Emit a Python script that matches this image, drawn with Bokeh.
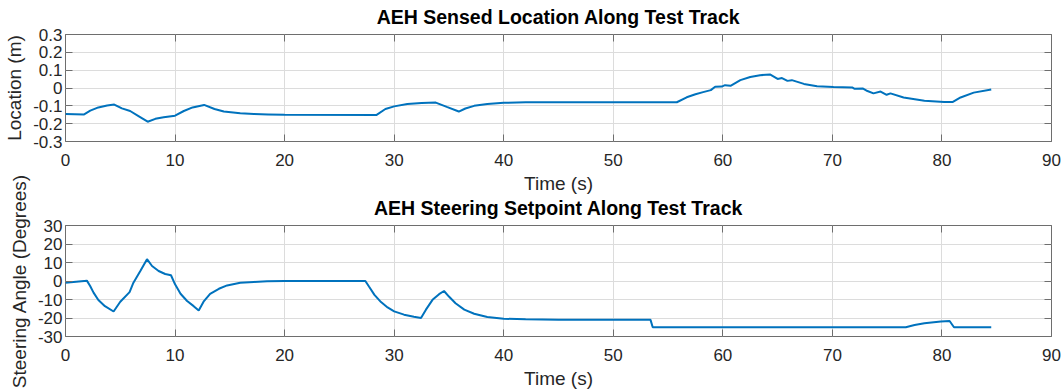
from bokeh.plotting import figure
from bokeh.layouts import column
from bokeh.models import LinearAxis, FixedTicker, Range1d, CustomLabelingPolicy
from bokeh.embed import file_html
from bokeh.resources import INLINE

# Sensed lateral location of the AEH along the track (time in s, location in m)
loc_time = [0, 1.7, 2.26, 3.0, 3.8, 4.45, 5.15, 5.9, 6.7, 7.5, 8.2, 8.96, 10.0,
            10.8, 11.6, 12.65, 13.6, 14.45, 15.95, 17.2, 18.5, 20.0, 28.4, 29.2,
            30.0, 31.2, 32.5, 33.8, 34.8, 35.9, 36.5, 37.3, 38.5, 40.0, 42.0, 55.8,
            56.7, 57.5, 58.2, 58.9, 59.3, 59.9, 60.2, 60.7, 61.6, 62.5, 63.4, 64.3,
            65.0, 65.4, 65.9, 66.3, 67.4, 68.6, 70.1, 71.8, 72.0, 72.8, 73.2, 73.75,
            74.4, 74.95, 75.3, 76.5, 78.4, 80.2, 81.0, 81.7, 82.9, 84.5]
loc_m = [-0.146, -0.148, -0.127, -0.109, -0.098, -0.093, -0.114, -0.129, -0.159,
         -0.189, -0.173, -0.164, -0.155, -0.129, -0.109, -0.095, -0.118, -0.132,
         -0.141, -0.146, -0.148, -0.150, -0.151, -0.118, -0.103, -0.090, -0.084,
         -0.082, -0.106, -0.132, -0.115, -0.100, -0.090, -0.083, -0.080, -0.080,
         -0.052, -0.035, -0.023, -0.012, 0.007, 0.008, 0.016, 0.012, 0.044, 0.062,
         0.072, 0.076, 0.051, 0.056, 0.040, 0.044, 0.023, 0.010, 0.006, 0.003,
         -0.004, -0.003, -0.017, -0.030, -0.020, -0.038, -0.030, -0.053, -0.071,
         -0.078, -0.078, -0.053, -0.026, -0.008]

# Steering setpoint along the track (time in s, angle in degrees)
steer_time = [0, 1.95, 2.25, 2.56, 3.0, 3.6, 4.39, 5.0, 5.85, 6.2, 6.83, 7.44, 7.9,
              8.5, 9.1, 9.63, 10.0, 10.5, 11.1, 11.7, 12.16, 12.6, 13.2, 14.0, 14.75,
              15.95, 17.2, 18.4, 20.0, 27.37, 27.7, 28.2, 28.8, 29.4, 30.0, 30.9,
              31.8, 32.45, 32.9, 33.5, 34.1, 34.55, 35.0, 35.6, 36.4, 37.3, 38.5,
              40.0, 42.0, 45.0, 53.4, 53.6, 76.7, 77.5, 78.4, 79.9, 80.7, 81.1, 84.5]
steer_deg = [-0.9, 0.2, -2.7, -6.3, -10.3, -13.6, -16.5, -11.2, -6.0, -0.9, 5.4,
             11.8, 8.1, 5.4, 3.8, 3.1, -1.8, -6.9, -10.8, -13.6, -15.9, -11.2, -6.9,
             -4.2, -2.4, -0.9, -0.5, -0.2, 0.0, 0.0, -3.0, -7.5, -11.4, -14.3, -16.4,
             -18.2, -19.3, -20.0, -15.5, -10.2, -7.1, -5.4, -8.4, -12.0, -15.5, -17.7,
             -19.5, -20.4, -20.7, -20.9, -21.0, -25.0, -25.0, -23.8, -22.8, -21.9,
             -21.6, -25.0, -25.0]

x_ticks = [0, 10, 20, 30, 40, 50, 60, 70, 80, 90]
loc_ticks = [-0.3, -0.2, -0.1, 0, 0.1, 0.2, 0.3]
loc_tick_labels = ["-0.3", "-0.2", "-0.1", "0", "0.1", "0.2", "0.3"]
steer_ticks = [-30, -20, -10, 0, 10, 20, 30]
steer_tick_labels = ["-30", "-20", "-10", "0", "10", "20", "30"]

FONT = "Liberation Sans"
TEXT = "#262626"
BOX = "#6e6e6e"
GRID = "#dcdcdc"
LINE = "#0072BD"

# box-side axes carry tick marks only, no labels
NO_LABELS = "const ids = [...indices]; for (const i of ids) indices.unset(i); return indices"


def tick_only_axis(ticks):
    return LinearAxis(ticker=FixedTicker(ticks=ticks), axis_line_color=None,
                      major_tick_in=7, major_tick_out=0, major_tick_line_color=BOX,
                      minor_tick_line_color=None, major_label_standoff=0,
                      major_label_text_font_size="1px",
                      major_label_policy=CustomLabelingPolicy(code=NO_LABELS))


def make_panel(title, ylabel, yr, yticks, ylabels, height, top_border, bottom_border):
    p = figure(width=1064, height=height, x_range=Range1d(0, 90), y_range=Range1d(*yr),
               output_backend="svg", toolbar_location=None,
               min_border_left=65, min_border_right=13,
               min_border_top=top_border, min_border_bottom=bottom_border)
    p.title.text = title
    p.title.align = "center"
    p.title.text_font = FONT
    p.title.text_font_size = "19.5px"
    p.title.text_font_style = "bold"
    p.title.text_color = "black"
    p.title.standoff = 6

    p.outline_line_color = BOX
    p.outline_line_width = 1
    p.border_fill_alpha = 0

    xt = FixedTicker(ticks=x_ticks)
    yt = FixedTicker(ticks=yticks)
    p.xaxis.ticker = xt
    p.yaxis.ticker = yt
    p.yaxis.major_label_overrides = dict(zip(yticks, ylabels))

    for ax in (p.xaxis[0], p.yaxis[0]):
        ax.axis_line_color = None
        ax.major_tick_in = 7
        ax.major_tick_out = 0
        ax.major_tick_line_color = BOX
        ax.minor_tick_line_color = None
        ax.major_label_text_font = FONT
        ax.major_label_text_font_size = "17px"
        ax.major_label_text_color = TEXT
        ax.axis_label_text_font = FONT
        ax.axis_label_text_font_size = "19px"
        ax.axis_label_text_font_style = "normal"
        ax.axis_label_text_color = TEXT
    p.xaxis.axis_label = "Time (s)"
    p.xaxis.major_label_standoff = 12
    p.xaxis.axis_label_standoff = 4
    p.yaxis.axis_label = ylabel
    p.yaxis.major_label_standoff = 3
    p.yaxis.axis_label_standoff = 5

    p.add_layout(tick_only_axis(x_ticks), "above")
    p.add_layout(tick_only_axis(yticks), "right")

    p.xgrid.grid_line_color = GRID
    p.ygrid.grid_line_color = GRID
    p.xgrid.ticker = xt
    p.ygrid.ticker = yt
    return p


p_loc = make_panel("AEH Sensed Location Along Test Track", "Location (m)",
                   (-0.3, 0.3), loc_ticks, loc_tick_labels, 196, 32, 53)
p_loc.line(loc_time, loc_m, line_color=LINE, line_width=2)

p_steer = make_panel("AEH Steering Setpoint Along Test Track", "Steering Angle (Degrees)",
                     (-30, 30), steer_ticks, steer_tick_labels, 222, 55, 56)
p_steer.line(steer_time, steer_deg, line_color=LINE, line_width=2)
# pull the lower panel up so its long axis label can extend above its own frame
p_steer.margin = (-26, 0, 0, 0)

layout = column(p_loc, p_steer, spacing=0)

open("out.html", "w").write(file_html(layout, INLINE))
